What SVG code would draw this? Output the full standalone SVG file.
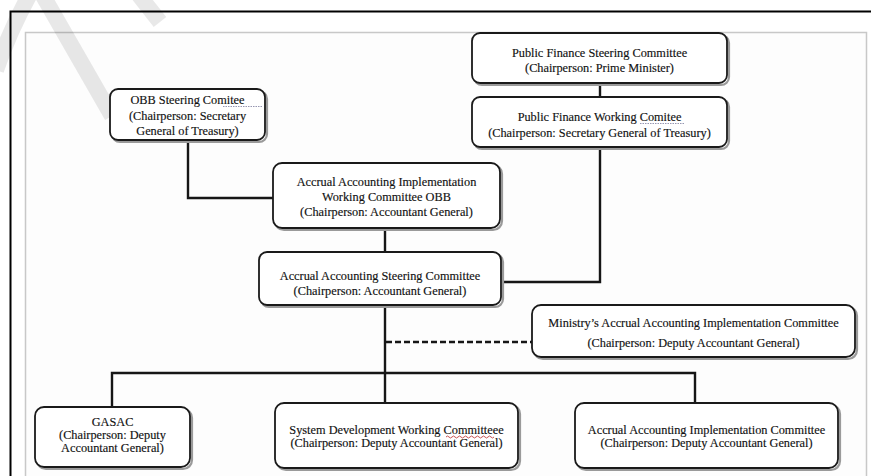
<svg xmlns="http://www.w3.org/2000/svg" width="871" height="476" viewBox="0 0 871 476">
  <defs>
    <style>
      .box { fill: #ffffff; stroke: #1a1a1a; stroke-width: 1.8; }
      .shadow { fill: none; stroke: #9a9a9a; stroke-width: 2.2; }
      .t { font-family: "Liberation Serif", "Times New Roman", serif; font-size: 12.3px; fill: #111111; stroke: #111111; stroke-width: 0.15; text-anchor: middle; }
      .link { fill: none; stroke: #161616; stroke-width: 2.4; }
      .dash { fill: none; stroke: #161616; stroke-width: 2.6; stroke-dasharray: 6 3; }
      .mark { fill: none; stroke: #000000; stroke-opacity: 0.09; stroke-width: 16; stroke-linecap: butt; }
    </style>
  </defs>

  <rect x="0" y="0" width="871" height="476" fill="#ffffff"/>

  <!-- page frame -->
  <g id="frame">
    <path d="M 10.5 476 L 10.5 11.5 L 871 11.5" fill="none" stroke="#000" stroke-width="2"/>
    <path d="M 25.5 476 L 25.5 32.5 L 866.5 32.5 L 866.5 476" fill="#fdfdfd" stroke="#c8c8c8" stroke-width="1.5"/>
  </g>

  <!-- faint background mark -->
  <g id="watermark">
    <path class="mark" d="M -4 70 Q 10 30 30 -6"/>
    <path class="mark" d="M 42 -6 L 112 116"/>
    <path class="mark" d="M 138 -6 L 160 22"/>
  </g>

  <!-- connectors -->
  <g id="connectors">
    <path class="link" d="M 188 140 L 188 198 L 274 198"/>
    <path class="link" d="M 600 83 L 600 97"/>
    <path class="link" d="M 600 147 L 600 282 L 503 282"/>
    <path class="link" d="M 385 228 L 385 252"/>
    <path class="link" d="M 385 305 L 385 403"/>
    <path class="link" d="M 112 407 L 112 373 L 695 373 L 695 403"/>
    <path class="dash" d="M 386 342 L 532 342"/>
  </g>

  <g id="obb-steering">
    <rect class="shadow" x="112" y="91" width="155" height="51" rx="8"/>
    <rect class="box" x="110" y="89" width="155" height="51" rx="8"/>
    <text class="t" x="187.5" y="104">OBB Steering Comitee</text>
    <text class="t" x="187.5" y="120">(Chairperson: Secretary</text>
    <text class="t" x="187.5" y="135">General of Treasury)</text>
    <path d="M 223 106.5 L 262 106.5" stroke="#8a8aa8" stroke-width="0.9" stroke-dasharray="1.5 1"/>
  </g>

  <g id="pf-steering">
    <rect class="shadow" x="474" y="35" width="255" height="50" rx="8"/>
    <rect class="box" x="472" y="33" width="255" height="50" rx="8"/>
    <text class="t" x="599.5" y="57">Public Finance Steering Committee</text>
    <text class="t" x="599.5" y="72">(Chairperson: Prime Minister)</text>
  </g>

  <g id="pf-working">
    <rect class="shadow" x="474" y="99" width="255" height="50" rx="8"/>
    <rect class="box" x="472" y="97" width="255" height="50" rx="8"/>
    <text class="t" x="599.5" y="121">Public Finance Working Comitee</text>
    <text class="t" x="599.5" y="137">(Chairperson: Secretary General of Treasury)</text>
    <path d="M 640 123.5 L 684 123.5" stroke="#8a8aa8" stroke-width="0.9" stroke-dasharray="1.5 1"/>
  </g>

  <g id="aai-working-obb">
    <rect class="shadow" x="275" y="165" width="227" height="65" rx="9"/>
    <rect class="box" x="273" y="163" width="227" height="65" rx="9"/>
    <text class="t" x="386.5" y="186">Accrual Accounting Implementation</text>
    <text class="t" x="386.5" y="201">Working Committee OBB</text>
    <text class="t" x="386.5" y="216">(Chairperson: Accountant General)</text>
  </g>

  <g id="aa-steering">
    <rect class="shadow" x="261" y="254" width="242" height="53" rx="8"/>
    <rect class="box" x="259" y="252" width="242" height="53" rx="8"/>
    <text class="t" x="380" y="280">Accrual Accounting Steering Committee</text>
    <text class="t" x="380" y="295">(Chairperson: Accountant General)</text>
  </g>

  <g id="ministry-aai">
    <rect class="shadow" x="534" y="307" width="323" height="52" rx="9"/>
    <rect class="box" x="532" y="305" width="323" height="52" rx="9"/>
    <text class="t" x="693.5" y="327">Ministry’s Accrual Accounting Implementation Committee</text>
    <text class="t" x="693.5" y="347">(Chairperson: Deputy Accountant General)</text>
  </g>

  <g id="gasac">
    <rect class="shadow" x="37" y="409" width="155" height="60" rx="9"/>
    <rect class="box" x="35" y="407" width="155" height="60" rx="9"/>
    <text class="t" x="112.5" y="426">GASAC</text>
    <text class="t" x="112.5" y="439">(Chairperson: Deputy</text>
    <text class="t" x="112.5" y="452">Accountant General)</text>
  </g>

  <g id="system-dev">
    <rect class="shadow" x="277" y="405" width="243" height="65" rx="9"/>
    <rect class="box" x="275" y="403" width="243" height="65" rx="9"/>
    <text class="t" x="396.5" y="434">System Development Working Committeee</text>
    <text class="t" x="396.5" y="447">(Chairperson: Deputy Accountant General)</text>
    <path d="M 446 437 q 1.5 -2 3 0 t 3 0 t 3 0 t 3 0 t 3 0 t 3 0 t 3 0 t 3 0 t 3 0 t 3 0 t 3 0 t 3 0 t 3 0 t 3 0 t 3 0 t 3 0" fill="none" stroke="#c04040" stroke-width="0.9"/>
  </g>

  <g id="aa-implementation">
    <rect class="shadow" x="577" y="405" width="263" height="65" rx="9"/>
    <rect class="box" x="575" y="403" width="263" height="65" rx="9"/>
    <text class="t" x="706.5" y="434">Accrual Accounting Implementation Committee</text>
    <text class="t" x="706.5" y="447">(Chairperson: Deputy Accountant General)</text>
  </g>
</svg>
